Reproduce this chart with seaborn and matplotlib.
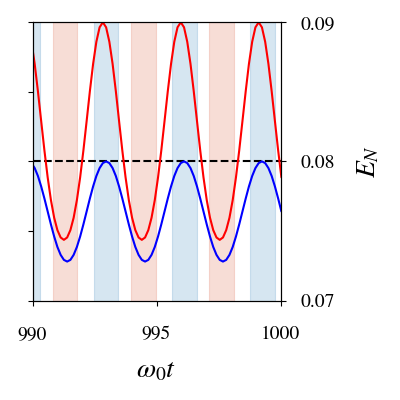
import matplotlib
matplotlib.use("Agg")
import matplotlib.pyplot as plt
import pandas as pd
import seaborn as sns

# ---- data ----
t = [989.957, 990.088, 990.219, 990.350, 990.481, 990.612, 990.743, 990.874, 991.004, 991.135,
     991.266, 991.397, 991.528, 991.659, 991.790, 991.921, 992.052, 992.183, 992.313, 992.444,
     992.575, 992.706, 992.837, 992.968, 993.099, 993.230, 993.361, 993.491, 993.622, 993.753,
     993.884, 994.015, 994.146, 994.277, 994.408, 994.539, 994.670, 994.800, 994.931, 995.062,
     995.193, 995.324, 995.455, 995.586, 995.717, 995.848, 995.979, 996.110, 996.240, 996.371,
     996.502, 996.633, 996.764, 996.895, 997.026, 997.157, 997.288, 997.419, 997.549, 997.680,
     997.811, 997.942, 998.073, 998.204, 998.335, 998.466, 998.597, 998.727, 998.858, 998.989,
     999.120, 999.251, 999.382, 999.513, 999.644, 999.775, 999.906, 1000.037]

red_EN = [0.08860, 0.08701, 0.08504, 0.08290, 0.08078, 0.07885, 0.07722, 0.07595, 0.07506, 0.07453,
          0.07436, 0.07453, 0.07506, 0.07595, 0.07722, 0.07885, 0.08078, 0.08290, 0.08504, 0.08701,
          0.08860, 0.08964, 0.09000, 0.08964, 0.08860, 0.08701, 0.08504, 0.08290, 0.08078, 0.07885,
          0.07722, 0.07595, 0.07506, 0.07453, 0.07436, 0.07453, 0.07506, 0.07595, 0.07722, 0.07885,
          0.08078, 0.08290, 0.08504, 0.08701, 0.08860, 0.08964, 0.09000, 0.08964, 0.08860, 0.08701,
          0.08504, 0.08290, 0.08078, 0.07885, 0.07722, 0.07595, 0.07506, 0.07453, 0.07436, 0.07453,
          0.07506, 0.07595, 0.07722, 0.07885, 0.08078, 0.08290, 0.08504, 0.08701, 0.08860, 0.08964,
          0.09000, 0.08964, 0.08860, 0.08701, 0.08504, 0.08290, 0.08078, 0.07885]

blue_EN = [0.07988, 0.07952, 0.07895, 0.07820, 0.07733, 0.07640, 0.07547, 0.07460, 0.07385, 0.07328,
           0.07292, 0.07280, 0.07292, 0.07328, 0.07385, 0.07460, 0.07547, 0.07640, 0.07733, 0.07820,
           0.07895, 0.07952, 0.07988, 0.08000, 0.07988, 0.07952, 0.07895, 0.07820, 0.07733, 0.07640,
           0.07547, 0.07460, 0.07385, 0.07328, 0.07292, 0.07280, 0.07292, 0.07328, 0.07385, 0.07460,
           0.07547, 0.07640, 0.07733, 0.07820, 0.07895, 0.07952, 0.07988, 0.08000, 0.07988, 0.07952,
           0.07895, 0.07820, 0.07733, 0.07640, 0.07547, 0.07460, 0.07385, 0.07328, 0.07292, 0.07280,
           0.07292, 0.07328, 0.07385, 0.07460, 0.07547, 0.07640, 0.07733, 0.07820, 0.07895, 0.07952,
           0.07988, 0.08000, 0.07988, 0.07952, 0.07895, 0.07820, 0.07733, 0.07640]

blue_band_start = [989.32, 992.47, 995.62, 998.77]
blue_band_end = [990.32, 993.46, 996.62, 999.78]
red_band_start = [990.81, 993.97, 997.12]
red_band_end = [991.79, 994.97, 998.12]

ref_level = 0.08
x_ticks = [990, 995, 1000]
x_labels = ["990", "995", "1000"]
y_left_ticks = [0.07, 0.075, 0.08, 0.085, 0.09]
y_right_ticks = [0.07, 0.08, 0.09]
y_right_labels = ["0.07", "0.08", "0.09"]

# ---- style ----
sns.set_style("ticks", {"axes.edgecolor": "black", "xtick.color": "black",
                        "ytick.color": "black", "text.color": "black",
                        "axes.labelcolor": "black"})
plt.rcParams["font.family"] = ["STIXGeneral", "DejaVu Serif"]
plt.rcParams["mathtext.fontset"] = "stix"

fig = plt.figure(figsize=(4, 4), dpi=100)
ax = fig.add_axes([0.08125, 0.24875, 0.62, 0.6955])

for s, e in zip(blue_band_start, blue_band_end):
    ax.axvspan(s, e, color="tab:blue", alpha=0.18, lw=0.8)
for s, e in zip(red_band_start, red_band_end):
    ax.axvspan(s, e, color="#e07a5f", alpha=0.25, lw=0.8)

ax.axhline(ref_level, color="black", ls="--", lw=1.5)

df = pd.DataFrame({"t": t, "red": red_EN, "blue": blue_EN})
sns.lineplot(data=df, x="t", y="red", color="red", lw=1.5, ax=ax)
sns.lineplot(data=df, x="t", y="blue", color="blue", lw=1.5, ax=ax)

ax.set_xlim(990, 1000)
ax.set_ylim(0.07, 0.09)
ax.set_xticks(x_ticks, x_labels)
ax.set_yticks(y_left_ticks)
ax.tick_params(axis="y", left=True, right=False, labelleft=False, labelright=False,
               direction="out", length=3.5, width=0.8)
ax.tick_params(axis="x", labelsize=14, pad=15, direction="out", length=3.5, width=0.8)
ax.set_xlabel(r"$\omega_0 t$", fontsize=20, labelpad=11)
ax.set_ylabel("")

ax2 = ax.twinx()
ax2.set_ylim(0.07, 0.09)
ax2.set_yticks(y_right_ticks, y_right_labels)
ax2.tick_params(axis="y", labelsize=14, pad=11, direction="out", length=3.5, width=0.8)
ax2.set_ylabel(r"$E_N$", fontsize=20, labelpad=15)

for a in (ax, ax2):
    for sp in a.spines.values():
        sp.set_linewidth(0.8)
        sp.set_color("black")

fig.savefig("out.png", dpi=100)
